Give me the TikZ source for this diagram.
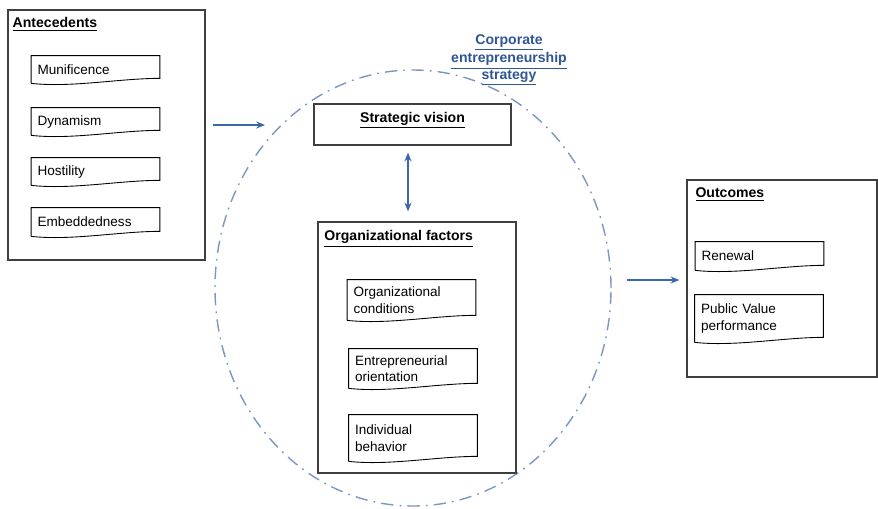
\documentclass[tikz,border=0pt]{standalone}
\usepackage{fontspec}
\setmainfont{Liberation Sans}
\usepackage{xcolor}
\definecolor{cesblue}{HTML}{2F5597}
\definecolor{cesarrow}{HTML}{3E66AE}
\definecolor{cesdash}{HTML}{7C95C6}
\definecolor{cesframe}{HTML}{3F3F3F}
\usepackage{tikz}
\usetikzlibrary{arrows.meta,positioning,calc,shapes.geometric}

\begin{document}
\begin{tikzpicture}[
  font=\fontsize{7.7}{9.4}\selectfont,
  frame/.style={draw=cesframe, line width=0.7pt, inner sep=0pt},
  title/.style={font=\fontsize{8}{9.4}\selectfont\bfseries, inner sep=1pt},
  doc/.style={inner xsep=0.12cm, inner ysep=0pt, align=left,
              text width=2.32cm, minimum height=#1},
  flow/.style={draw=cesarrow, line width=0.9pt},
  zone/.style={draw=cesdash, line width=0.8pt,
               dash pattern=on 7pt off 3.5pt on 1pt off 3.5pt}
]
  \useasboundingbox (0,0) rectangle (17.56,-10.16);

  % strategy area
  \node[zone, ellipse, minimum width=7.92cm, minimum height=8.72cm] (area) at (8.26,-5.76) {};
  \node[title, text=cesblue, align=center] (ces) at (10.18,-1.2)
    {\underline{Corporate}\\\underline{entrepreneurship}\\\underline{strategy}};

  % antecedents
  \node[frame, minimum width=3.94cm, minimum height=5.0cm] (ante) at (2.13,-2.7) {};
  \node[title, below right=0.12cm and 0.065cm of ante.north west] {\underline{Antecedents}};
  \node[doc=0.54cm] (muni) at (1.91,-1.39) {Munificence};
  \node[doc=0.54cm] (dyna) at (1.91,-2.43) {Dynamism};
  \node[doc=0.54cm] (host) at (1.91,-3.43) {Hostility};
  \node[doc=0.56cm] (embe) at (1.91,-4.44) {Embeddedness};

  % strategic vision
  \node[frame, minimum width=3.94cm, minimum height=0.82cm] (vis) at (8.25,-2.49) {};
  \node[title, below=0.13cm of vis.north] {\underline{Strategic vision}};

  % organizational factors
  \node[frame, minimum width=3.96cm, minimum height=5.02cm] (org) at (8.34,-6.95) {};
  \node[title, below right=0.14cm and 0.1cm of org.north west] {\underline{Organizational factors}};
  \node[doc=0.8cm]  (orgc) at (8.23,-6.0)  {Organizational\\conditions};
  \node[doc=0.78cm] (entr) at (8.26,-7.37) {Entrepreneurial\\orientation};
  \node[doc=0.92cm] (indv) at (8.26,-8.76) {Individual\\behavior};

  % outcomes
  \node[frame, minimum width=3.8cm, minimum height=3.94cm] (outc) at (15.64,-5.57) {};
  \node[title, below right=0.12cm and 0.14cm of outc.north west] {\underline{Outcomes}};
  \node[doc=0.56cm] (renw) at (15.19,-5.12) {Renewal};
  \node[doc=0.94cm] (pubv) at (15.18,-6.37) {Public Value\\performance};

  \foreach \n in {muni,dyna,host,embe,orgc,entr,indv,renw,pubv}
    \draw[line width=0.5pt] (\n.south west) -- (\n.north west) -- (\n.north east)
      -- ([yshift=0.1cm]\n.south east)
      .. controls ([xshift=-0.8cm,yshift=0.1cm]\n.south east)
         and ([xshift=0.8cm,yshift=-0.09cm]\n.south west) .. (\n.south west);

  % connectors
  \coordinate (into) at (5.3,-2.5);
  \coordinate (outof) at (12.54,-5.6);
  \draw[flow, -{Stealth[length=5pt,width=4pt]}] ([shift={(0.14,0.2)}]ante.east) -- (into);
  \draw[flow, {Stealth[length=5pt,width=4pt]}-{Stealth[length=5pt,width=4pt]}]
    ($(vis.south)+(-0.09,-0.14)$) -- ($(vis.south |- org.north)+(-0.09,0.2)$);
  \draw[flow, -{Stealth[length=5pt,width=4pt]}] (outof) -- ([shift={(-0.14,-0.03)}]outc.west);

\end{tikzpicture}
\end{document}
